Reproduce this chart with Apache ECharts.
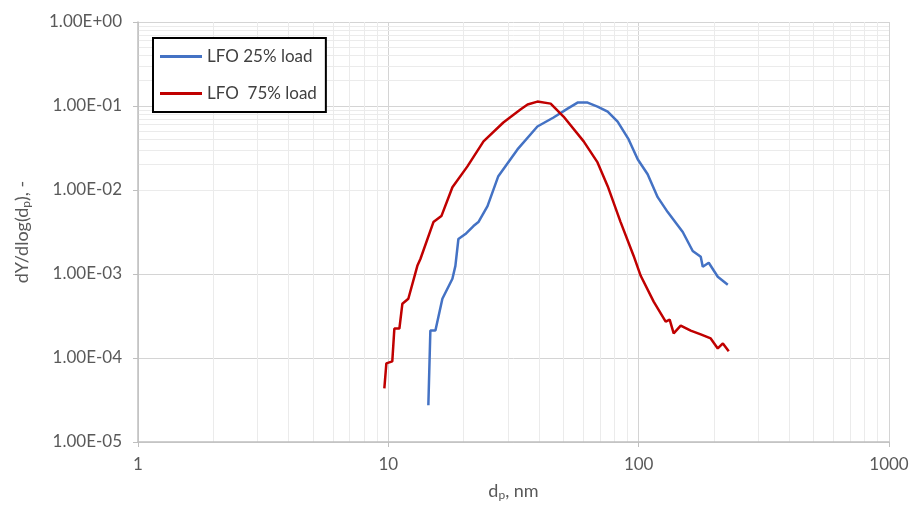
<!DOCTYPE html>
<html>
<head>
<meta charset="utf-8">
<script src="https://cdn.jsdelivr.net/npm/echarts@6/dist/echarts.min.js"></script>
<style>
  html, body { margin: 0; padding: 0; background: #fff; }
  #chart { width: 914px; height: 506px; }
</style>
</head>
<body>
<div id="chart"></div>
<script>
// LFO 25% load: particle diameter (nm) and dY/dlog(dp)
const load25X = [14.45, 14.72, 15.42, 16.44, 18.03, 18.53, 19.05, 20.32, 21.88, 22.9, 24.9, 27.5, 32.8, 39.4, 45.7, 52.0, 57.0, 62.5, 68.5, 75.2, 82.4, 91.2, 99.1, 108.6, 119.1, 130.6, 150, 164.4, 177, 180.3, 190.5, 207, 227];
const load25Y = [2.74e-5, 2.12e-4, 2.12e-4, 5.08e-4, 8.77e-4, 1.25e-3, 2.61e-3, 2.99e-3, 3.72e-3, 4.15e-3, 6.43e-3, 1.46e-2, 3.04e-2, 5.70e-2, 7.29e-2, 9.31e-2, 0.1097, 0.1097, 0.0984, 0.0859, 0.0653, 0.040, 0.0232, 0.0154, 8.22e-3, 5.46e-3, 3.16e-3, 1.88e-3, 1.60e-3, 1.22e-3, 1.36e-3, 9.27e-4, 7.45e-4];

// LFO 75% load
const load75X = [9.64, 9.82, 10.37, 10.57, 11.07, 11.38, 12.02, 13.06, 13.43, 15.14, 16.29, 18.03, 20.7, 24.0, 28.8, 33.7, 36.0, 39.4, 44.5, 50.1, 60.3, 68.5, 75.2, 84.7, 95.5, 101.9, 114.8, 128.2, 133, 138, 147.2, 161.4, 177, 194, 207, 217, 229];
const load75Y = [4.36e-5, 8.63e-5, 9.12e-5, 2.24e-4, 2.24e-4, 4.43e-4, 5.08e-4, 1.25e-3, 1.51e-3, 4.15e-3, 4.89e-3, 1.08e-2, 1.91e-2, 3.79e-2, 6.36e-2, 9.06e-2, 0.104, 0.1128, 0.1067, 0.0749, 0.0379, 0.0213, 0.0111, 4.15e-3, 1.64e-3, 9.52e-4, 4.69e-4, 2.71e-4, 2.87e-4, 1.96e-4, 2.43e-4, 2.12e-4, 1.91e-4, 1.71e-4, 1.30e-4, 1.49e-4, 1.20e-4];

const xDecades = [1, 10, 100];
const yDecades = [1e-5, 1e-4, 1e-3, 1e-2, 1e-1];
const minorSteps = [2, 3, 4, 5, 6, 7, 8, 9];

const font = 'Lato, "Open Sans", sans-serif';

function pairs(xs, ys) {
  return xs.map((x, i) => [x, ys[i]]);
}

function sciLabel(v) {
  const e = Math.round(Math.log10(v));
  const m = (v / Math.pow(10, e)).toFixed(2);
  const sign = e < 0 ? '-' : '+';
  return m + 'E' + sign + String(Math.abs(e)).padStart(2, '0');
}

// minor log gridlines (2..9 within each decade)
const minorLines = [];
xDecades.forEach(d => minorSteps.forEach(s => minorLines.push({ xAxis: d * s })));
yDecades.forEach(d => minorSteps.forEach(s => minorLines.push({ yAxis: d * s })));

const chart = echarts.init(document.getElementById('chart'));

const subRich = { p: { fontSize: 12, color: '#595959', verticalAlign: 'bottom', padding: [7, 0, 0, 0] } };

chart.setOption({
  animation: false,
  textStyle: { fontFamily: font },
  grid: { left: 138, right: 25, top: 22, bottom: 62 },
  legend: {
    left: 153,
    top: 38,
    z: 10,
    orient: 'vertical',
    data: ['LFO 25% load', 'LFO  75% load'],
    itemWidth: 42,
    itemHeight: 3,
    itemGap: 20,
    icon: 'rect',
    padding: [10, 9, 10, 7],
    backgroundColor: '#fff',
    borderColor: '#000',
    borderWidth: 2,
    borderRadius: 0,
    textStyle: { fontSize: 17, color: '#404040', fontFamily: font }
  },
  xAxis: {
    type: 'log',
    logBase: 10,
    min: 1,
    max: 1000,
    name: 'd{p|p}, nm',
    nameLocation: 'middle',
    nameGap: 40,
    nameTextStyle: { fontSize: 18, color: '#595959', rich: subRich },
    axisLine: { lineStyle: { color: '#bfbfbf', width: 1.5 } },
    axisTick: { show: true, length: 5, lineStyle: { color: '#bfbfbf' } },
    axisLabel: { fontSize: 17, color: '#595959', margin: 14, formatter: v => String(Math.round(v)) },
    splitLine: { show: true, lineStyle: { color: '#d4d4d4', width: 1 } }
  },
  yAxis: {
    type: 'log',
    logBase: 10,
    min: 1e-5,
    max: 1,
    name: 'dY/dlog(d{p|p}), -',
    nameLocation: 'middle',
    nameGap: 106,
    nameTextStyle: { fontSize: 18, color: '#595959', rich: subRich },
    axisLine: { show: true, lineStyle: { color: '#bfbfbf', width: 1.5 } },
    axisTick: { show: true, length: 5, lineStyle: { color: '#bfbfbf' } },
    axisLabel: { fontSize: 17, color: '#595959', margin: 16, formatter: sciLabel },
    splitLine: { show: true, lineStyle: { color: '#d4d4d4', width: 1 } }
  },
  series: [
    {
      name: 'grid',
      type: 'line',
      z: 0,
      data: [[1, 1e-5]],
      showSymbol: false,
      lineStyle: { opacity: 0 },
      silent: true,
      markLine: {
        silent: true,
        z: 0,
        symbol: 'none',
        label: { show: false },
        lineStyle: { color: '#ebebeb', width: 1, type: 'solid' },
        emphasis: { disabled: true },
        data: minorLines
      }
    },
    {
      name: 'LFO 25% load',
      type: 'line',
      z: 3,
      data: pairs(load25X, load25Y),
      showSymbol: false,
      color: '#4472c4',
      lineStyle: { width: 2.5, color: '#4472c4' }
    },
    {
      name: 'LFO  75% load',
      type: 'line',
      z: 3,
      data: pairs(load75X, load75Y),
      showSymbol: false,
      color: '#c00000',
      lineStyle: { width: 2.5, color: '#c00000' }
    }
  ]
});
</script>
</body>
</html>
